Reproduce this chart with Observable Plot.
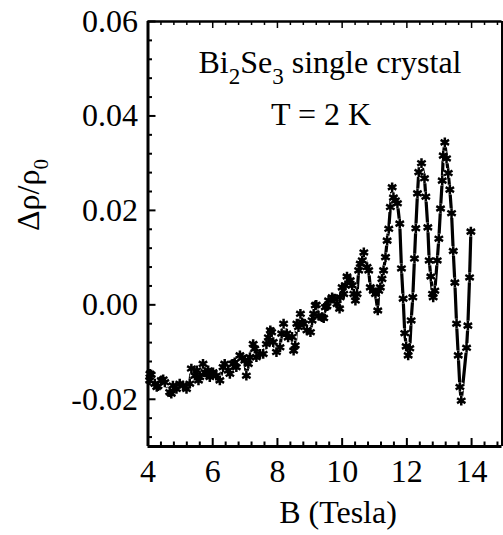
<!DOCTYPE html>
<html><head><meta charset="utf-8">
<script src="https://cdn.jsdelivr.net/npm/d3@7"></script>
<script src="https://cdn.jsdelivr.net/npm/@observablehq/plot@0.6"></script>
<style>
body{margin:0;background:#fff}
#chart svg{font-family:"Liberation Serif","Times New Roman",serif;background:#fff}
</style>
</head><body><div id="chart"></div>
<script>
// B (Tesla)
const fieldT = [4.05,4.06,4.10,4.21,4.27,4.31,4.41,4.47,4.52,4.67,4.72,4.77,4.88,4.98,5.08,5.19,5.29,5.34,5.45,5.51,5.56,5.60,5.70,5.76,5.82,5.86,5.91,5.97,6.01,6.11,6.22,6.32,6.37,6.48,6.53,6.63,6.68,6.73,6.84,6.91,6.99,7.04,7.10,7.15,7.25,7.30,7.35,7.46,7.56,7.66,7.72,7.78,7.82,7.87,7.97,8.08,8.13,8.19,8.29,8.33,8.45,8.50,8.55,8.60,8.65,8.71,8.76,8.81,8.91,9.02,9.07,9.12,9.17,9.20,9.27,9.38,9.43,9.48,9.53,9.58,9.69,9.76,9.84,9.92,9.94,10.00,10.05,10.10,10.15,10.25,10.31,10.36,10.41,10.46,10.51,10.56,10.62,10.67,10.77,10.82,10.87,10.96,11.03,11.10,11.13,11.18,11.23,11.28,11.34,11.39,11.44,11.49,11.545,11.585,11.647,11.709,11.78,11.833,11.885,11.935,11.978,12.04,12.09,12.133,12.183,12.235,12.276,12.328,12.368,12.452,12.545,12.585,12.647,12.69,12.74,12.793,12.814,12.864,12.938,12.988,13.04,13.093,13.124,13.173,13.226,13.279,13.328,13.381,13.433,13.483,13.536,13.588,13.638,13.681,13.845,13.885,13.938,13.978];
// Δρ/ρ0
const dRho = [-0.0160,-0.0146,-0.0148,-0.0167,-0.0174,-0.0172,-0.0160,-0.0158,-0.0164,-0.0185,-0.0188,-0.0171,-0.0178,-0.0167,-0.0171,-0.0178,-0.0167,-0.0135,-0.0150,-0.0139,-0.0160,-0.0153,-0.0125,-0.0143,-0.0146,-0.0139,-0.0153,-0.0146,-0.0143,-0.0150,-0.0160,-0.0132,-0.0125,-0.0139,-0.0146,-0.0125,-0.0122,-0.0132,-0.0107,-0.0112,-0.0118,-0.0150,-0.0125,-0.0111,-0.0083,-0.0093,-0.0111,-0.0104,-0.0104,-0.0083,-0.0069,-0.0054,-0.0058,-0.0079,-0.0100,-0.0090,-0.0061,-0.0040,-0.0061,-0.0069,-0.0068,-0.0097,-0.0086,-0.0040,-0.0047,-0.0019,-0.0037,-0.0040,-0.0054,-0.0058,-0.0033,-0.0019,-0.0001,0.0000,-0.0023,-0.0026,-0.0028,-0.0005,-0.0003,0.0009,0.0016,0.0013,0.0002,-0.0008,0.0016,0.0037,0.0023,0.0041,0.0060,0.0052,0.0041,0.0023,0.0009,0.0023,0.0073,0.0087,0.0094,0.0111,0.0080,0.0073,0.0037,0.0030,0.0023,-0.0012,0.0030,0.0037,0.0055,0.0073,0.0101,0.0136,0.0161,0.0207,0.0249,0.0227,0.0221,0.0215,0.0172,0.0077,0.0013,-0.0060,-0.0088,-0.0107,-0.0092,-0.0033,0.0016,0.0098,0.0162,0.0236,0.0281,0.0300,0.0268,0.0229,0.0164,0.0094,0.0060,0.0023,0.0016,0.0030,0.0094,0.0140,0.0204,0.0263,0.0316,0.0344,0.0310,0.0279,0.0244,0.0194,0.0114,0.0047,-0.0040,-0.0107,-0.0174,-0.0203,-0.0091,-0.0044,0.0058,0.0155];

const xDomain = [4, 14.94];
const yDomain = [-0.03, 0.06];
const xMajor = [4, 6, 8, 10, 12, 14];
const xMinor = d3.range(4.4, 14.94, 0.4);
const yMajor = [-0.02, 0, 0.02, 0.04, 0.06];
const yMinor = d3.range(-0.028, 0.0601, 0.004);
const title1 = "Bi2Se3 single crystal";
const title2 = "T = 2 K";
const xLabel = "B (Tesla)";
const yLabel = "Δρ/ρ0";

const data = fieldT.map((b, i) => ({b, r: dRho[i]}));
const FS = 32;
const W = 503, H = 535, ML = 147.5, MR = 1.5, MT = 21, MB = 89;
const PW = W - ML - MR, PH = H - MT - MB;
const notMajor = (arr, maj) => arr.filter(v => !maj.some(m => Math.abs(m - v) < 1e-6));

const chart = Plot.plot({
  width: W,
  height: H,
  marginLeft: ML,
  marginRight: MR,
  marginTop: MT,
  marginBottom: MB,
  style: {fontFamily: '"Liberation Serif", serif', fontSize: FS + "px", color: "black", background: "white"},
  x: {domain: xDomain},
  y: {domain: yDomain},
  marks: [
    Plot.line(data, {x: "b", y: "r", stroke: "black", strokeWidth: 3.2}),
    Plot.dot(data, {x: "b", y: "r", symbol: "asterisk", r: 4.6, stroke: "white", strokeWidth: 4.6}),
    Plot.dot(data, {x: "b", y: "r", symbol: "asterisk", r: 4.6, stroke: "black", strokeWidth: 2.5}),
    // tick labels
    Plot.axisX({ticks: xMajor, anchor: "bottom", tickSize: 0, tickPadding: 13, fontSize: FS, label: null, tickFormat: d => String(d)}),
    Plot.axisY({ticks: yMajor, anchor: "left", tickSize: 0, tickPadding: 10, fontSize: FS, label: null, tickFormat: d => d.toFixed(2)}),
    // inward ticks (bottom, top, left)
    Plot.tickX(xMajor.slice(1), {x: d => d, insetTop: PH - 8, stroke: "black", strokeWidth: 2}),
    Plot.tickX(notMajor(xMinor, xMajor), {x: d => d, insetTop: PH - 4.5, stroke: "black", strokeWidth: 2}),
    Plot.tickX(xMajor.slice(1), {x: d => d, insetBottom: PH - 7, stroke: "black", strokeWidth: 1.5}),
    Plot.tickX(notMajor(xMinor, xMajor), {x: d => d, insetBottom: PH - 4, stroke: "black", strokeWidth: 1.5}),
    Plot.tickY(yMajor, {y: d => d, insetRight: PW - 8, stroke: "black", strokeWidth: 2}),
    Plot.tickY(notMajor(yMinor, yMajor), {y: d => d, insetRight: PW - 4.5, stroke: "black", strokeWidth: 2}),
    // frame
    Plot.ruleX([xDomain[0]], {stroke: "black", strokeWidth: 3}),
    Plot.ruleX([xDomain[1]], {stroke: "black", strokeWidth: 2}),
    Plot.ruleY([yDomain[0]], {stroke: "black", strokeWidth: 3}),
    Plot.ruleY([yDomain[1]], {stroke: "black", strokeWidth: 2.5}),
    // texts
    Plot.text([title1], {frameAnchor: "top", text: d => d, lineAnchor: "bottom", dx: 5, dy: 51, fontSize: FS, fill: "black"}),
    Plot.text([title2], {frameAnchor: "top", text: d => d, lineAnchor: "bottom", dx: -4, dy: 103, fontSize: FS, fill: "black"}),
    Plot.text([xLabel], {frameAnchor: "bottom", text: d => d, lineAnchor: "bottom", dx: 13, dy: 76, fontSize: FS, fill: "black"}),
    Plot.text([yLabel], {frameAnchor: "left", text: d => d, lineAnchor: "bottom", rotate: -90, dx: -109, dy: -3, fontSize: FS, fill: "black"})
  ]
});

function subscriptify(svg, full, parts, subSize, shift) {
  svg.querySelectorAll("text").forEach(t => {
    if (t.textContent !== full) return;
    t.textContent = "";
    let down = false;
    for (const [s, sub] of parts) {
      const ts = document.createElementNS("http://www.w3.org/2000/svg", "tspan");
      ts.textContent = s;
      if (sub) { ts.setAttribute("font-size", subSize + "px"); ts.setAttribute("dy", shift + "px"); down = true; }
      else if (down) { ts.setAttribute("dy", (-shift) + "px"); down = false; }
      t.appendChild(ts);
    }
  });
}
subscriptify(chart, title1, [["Bi", false], ["2", true], ["Se", false], ["3", true], [" single crystal", false]], 23, 11);
subscriptify(chart, yLabel, [["Δρ/ρ", false], ["0", true]], 21, 9);

document.getElementById("chart").appendChild(chart);
</script>
</body></html>
